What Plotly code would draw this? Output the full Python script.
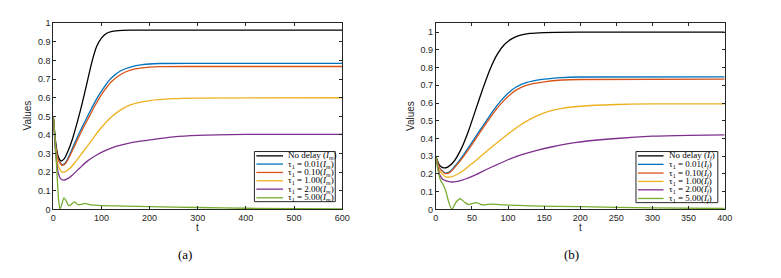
import plotly.graph_objects as go

W, H = 781, 278

# ---------------- data (a): I_m ----------------
t_a_black = [0, 5, 10, 16, 22, 30, 40, 50, 60, 70, 80, 90, 100, 110, 120, 135, 160, 250, 400, 600]
a_nodelay = [0.50, 0.36, 0.285, 0.26, 0.27, 0.31, 0.38, 0.47, 0.57, 0.68, 0.79, 0.875, 0.92, 0.945, 0.956, 0.961, 0.963, 0.963, 0.963, 0.963]
t_a_mid = [0, 5, 10, 18, 25, 35, 45, 55, 65, 75, 85, 95, 105, 120, 140, 160, 185, 220, 300, 600]
a_tau001 = [0.50, 0.34, 0.27, 0.24, 0.25, 0.30, 0.36, 0.416, 0.468, 0.52, 0.57, 0.615, 0.655, 0.705, 0.745, 0.765, 0.778, 0.784, 0.785, 0.785]
a_tau010 = [0.50, 0.34, 0.268, 0.237, 0.245, 0.29, 0.345, 0.40, 0.452, 0.50, 0.55, 0.595, 0.635, 0.685, 0.725, 0.748, 0.76, 0.767, 0.768, 0.768]
t_a_yel = [0, 5, 10, 18, 25, 35, 45, 55, 65, 75, 85, 100, 120, 140, 160, 200, 250, 300, 600]
a_tau100 = [0.50, 0.32, 0.235, 0.20, 0.203, 0.222, 0.252, 0.286, 0.32, 0.355, 0.39, 0.44, 0.495, 0.535, 0.562, 0.585, 0.595, 0.598, 0.60]
t_a_pur = [0, 5, 10, 15, 21, 30, 40, 55, 70, 90, 110, 130, 160, 200, 250, 300, 400, 600]
a_tau200 = [0.50, 0.30, 0.20, 0.165, 0.157, 0.165, 0.185, 0.222, 0.258, 0.292, 0.318, 0.338, 0.358, 0.373, 0.39, 0.398, 0.403, 0.403]
t_a_g = [0, 4, 8, 11, 14, 18, 22, 27, 32, 38, 44, 48, 52, 59, 66, 75, 85, 100, 150, 200, 300, 400, 600]
a_tau500 = [0.50, 0.36, 0.18, 0.05, 0.0, 0.03, 0.062, 0.045, 0.02, 0.028, 0.04, 0.032, 0.025, 0.027, 0.032, 0.026, 0.023, 0.02, 0.018, 0.015, 0.01, 0.006, 0.003]

# ---------------- data (b): I_f ----------------
t_b_black = [0, 5, 11, 17, 25, 35, 45, 55, 65, 75, 85, 95, 105, 115, 130, 150, 200, 400]
b_nodelay = [0.30, 0.25, 0.234, 0.24, 0.27, 0.34, 0.44, 0.56, 0.68, 0.79, 0.875, 0.93, 0.962, 0.98, 0.993, 0.998, 1.0, 1.0]
t_b_mid = [0, 5, 13, 20, 30, 40, 50, 60, 70, 80, 90, 100, 110, 125, 150, 175, 200, 400]
b_tau001 = [0.30, 0.235, 0.205, 0.215, 0.262, 0.318, 0.378, 0.44, 0.50, 0.56, 0.612, 0.655, 0.688, 0.715, 0.735, 0.744, 0.747, 0.748]
b_tau010 = [0.30, 0.235, 0.202, 0.21, 0.255, 0.308, 0.366, 0.427, 0.487, 0.545, 0.595, 0.637, 0.67, 0.70, 0.72, 0.73, 0.733, 0.735]
t_b_yel = [0, 5, 13, 20, 30, 40, 50, 60, 70, 80, 90, 100, 115, 130, 150, 175, 200, 250, 300, 400]
b_tau100 = [0.30, 0.22, 0.185, 0.182, 0.198, 0.225, 0.258, 0.292, 0.326, 0.36, 0.393, 0.425, 0.47, 0.508, 0.545, 0.57, 0.582, 0.592, 0.595, 0.595]
t_b_pur = [0, 5, 10, 20, 30, 40, 55, 70, 85, 100, 120, 140, 160, 195, 250, 300, 350, 400]
b_tau200 = [0.30, 0.20, 0.168, 0.155, 0.158, 0.17, 0.195, 0.225, 0.253, 0.28, 0.31, 0.333, 0.352, 0.378, 0.40, 0.413, 0.418, 0.42]
t_b_g = [0, 3, 6, 10, 14, 18, 22, 28, 34, 40, 45, 50, 56, 61, 66, 72, 78, 95, 130, 200, 300, 400]
b_tau500 = [0.30, 0.22, 0.17, 0.14, 0.10, 0.04, 0.0, 0.04, 0.06, 0.04, 0.027, 0.032, 0.038, 0.03, 0.025, 0.028, 0.03, 0.025, 0.02, 0.015, 0.008, 0.005]

colors = ["#000000", "#0072BD", "#D95319", "#EDB120", "#7E2F8E", "#77AC30"]
tau_vals = ["0.01", "0.10", "1.00", "2.00", "5.00"]
labels_a = ["No delay (<i>I<sub>m</sub></i>)"] + [f"τ<sub>1</sub> = {v}(<i>I<sub>m</sub></i>)" for v in tau_vals]
labels_b = ["No delay (<i>I<sub>f</sub></i>)"] + [f"τ<sub>1</sub> = {v}(<i>I<sub>f</sub></i>)" for v in tau_vals]
ytick_vals = [i / 10 for i in range(11)]
ytick_text = ["0"] + [f"0.{i}" for i in range(1, 10)] + ["1"]
xticks_a = [0, 100, 200, 300, 400, 500, 600]
xticks_b = [0, 50, 100, 150, 200, 250, 300, 350, 400]


def px(x):
    return x / W


def py(y):
    return 1 - y / H


fig = go.Figure()
series_a = [(t_a_black, a_nodelay), (t_a_mid, a_tau001), (t_a_mid, a_tau010),
            (t_a_yel, a_tau100), (t_a_pur, a_tau200), (t_a_g, a_tau500)]
series_b = [(t_b_black, b_nodelay), (t_b_mid, b_tau001), (t_b_mid, b_tau010),
            (t_b_yel, b_tau100), (t_b_pur, b_tau200), (t_b_g, b_tau500)]
for (tx, ys), c, n in zip(series_a, colors, labels_a):
    fig.add_trace(go.Scatter(x=tx, y=ys, mode="lines",
                             line=dict(color=c, width=1.3, shape="spline", smoothing=0.6),
                             name=n, showlegend=False, xaxis="x", yaxis="y"))
for (tx, ys), c, n in zip(series_b, colors, labels_b):
    fig.add_trace(go.Scatter(x=tx, y=ys, mode="lines",
                             line=dict(color=c, width=1.3, shape="spline", smoothing=0.6),
                             name=n, showlegend=False, xaxis="x2", yaxis="y2"))

ax_common = dict(showgrid=False, zeroline=False, showline=True, linecolor="#262626", linewidth=1,
                 mirror="ticks", ticks="inside", ticklen=3, tickcolor="#262626",
                 tickfont=dict(family="Liberation Sans, Arial", size=9, color="#262626"))
ydom = [py(212), py(19)]
fig.update_layout(
    width=W, height=H, margin=dict(l=0, r=0, t=0, b=0),
    paper_bgcolor="white", plot_bgcolor="white",
    xaxis=dict(domain=[px(51), px(344)], range=[0, 600], tickvals=xticks_a, anchor="y", **ax_common),
    yaxis=dict(domain=ydom, range=[0, 1], tickvals=ytick_vals, ticktext=ytick_text, anchor="x", **ax_common),
    xaxis2=dict(domain=[px(439), px(732)], range=[0, 400], tickvals=xticks_b, anchor="y2", **ax_common),
    yaxis2=dict(domain=ydom, range=[0, 1.05], tickvals=ytick_vals, ticktext=ytick_text, anchor="x2", **ax_common),
    showlegend=False,
)

ann = []
shapes = []
lab_font = dict(family="Liberation Sans, Arial", size=10, color="#262626")


def add_text(x, y, text, font, xanchor="center", yanchor="middle", angle=0):
    ann.append(dict(x=px(x), y=py(y), xref="paper", yref="paper", text=text, showarrow=False,
                    xanchor=xanchor, yanchor=yanchor, textangle=angle, font=font))


for cx in [197.5, 585.5]:
    add_text(cx, 231, "t", lab_font)
for cx in [25, 414]:
    add_text(cx, 115, "Values", lab_font, angle=-90)
cap_font = dict(family="Liberation Serif, Times New Roman", size=13, color="#000")
add_text(185, 259, "(a)", cap_font)
add_text(577, 259, "(b)", cap_font)

# compact legends (drawn manually to match the tight MATLAB legend spacing)
legends = [
    dict(box=(255, 152, 337, 204), line=(257, 284), text_x=287,
         ys=[156.5, 165.0, 173.7, 182.3, 191.0, 200.0], labels=labels_a),
    dict(box=(642, 152, 725, 205), line=(644, 670), text_x=673,
         ys=[156.5, 165.3, 174.3, 183.0, 191.7, 200.7], labels=labels_b),
]
leg_font = dict(family="Liberation Serif, Times New Roman", size=9, color="#000")
for lg in legends:
    x0, y0, x1, y1 = lg["box"]
    shapes.append(dict(type="rect", xref="paper", yref="paper", x0=px(x0), y0=py(y1), x1=px(x1), y1=py(y0),
                       line=dict(color="#262626", width=1), fillcolor="white", layer="above"))
    for yy, c, lab in zip(lg["ys"], colors, lg["labels"]):
        shapes.append(dict(type="line", xref="paper", yref="paper", x0=px(lg["line"][0]), x1=px(lg["line"][1]),
                           y0=py(yy), y1=py(yy), line=dict(color=c, width=1.3), layer="above"))
        add_text(lg["text_x"], yy, lab, leg_font, xanchor="left")

fig.update_layout(annotations=ann, shapes=shapes)
fig.write_html("out.html", config={"displayModeBar": False},
               post_script="document.body.style.margin='0px';")
